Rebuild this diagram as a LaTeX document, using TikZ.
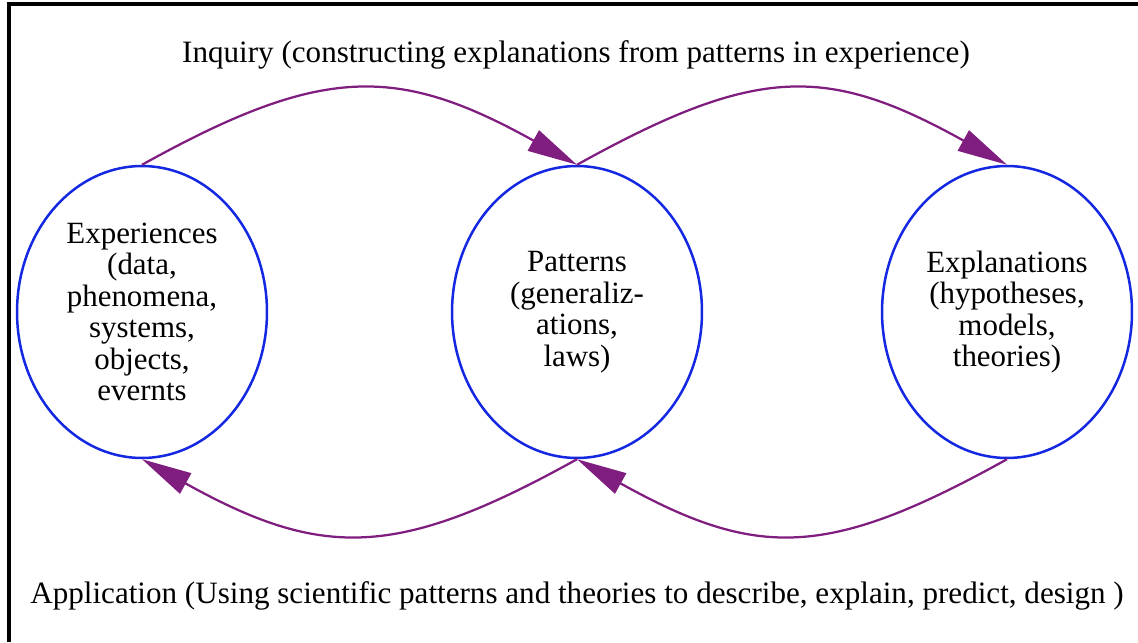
\documentclass[tikz,border=0pt]{standalone}
\usepackage{fontspec}
\setmainfont{Liberation Serif}
\usetikzlibrary{arrows.meta,shapes.geometric}
\definecolor{cyclepurple}{RGB}{128,30,128}
\definecolor{ringblue}{RGB}{20,40,225}
\tikzset{
  stage/.style={ellipse, draw=ringblue, line width=0.05cm, minimum width=5cm,
    minimum height=5.84cm, inner sep=0pt, align=center,
    font=\fontsize{17.6}{17.9}\selectfont},
  cycle/.style={draw=cyclepurple, line width=0.045cm,
    -{Triangle[length=1.0cm,width=0.46cm]}},
  caption/.style={font=\fontsize{17.7}{19}\selectfont, inner sep=0pt}
}
\begin{document}
\begin{tikzpicture}[x=0.02cm,y=-0.02cm]
  % page frame: white background, rule along the left and top edges
  \useasboundingbox[fill=white] (0,0) rectangle (1138,642);
  \draw[line width=0.065cm] (9,642) -- (9,4) -- (1138,4);

  % the three stages
  \node[stage] (exp)  at (142,312) {Experiences\\(data,\\phenomena,\\systems,\\objects,\\evernts};
  \node[stage] (pat)  at (577,312) {Patterns\\(generaliz-\\ations,\\laws)};
  \node[stage] (expl) at (1007,312) {Explanations\\(hypotheses,\\models,\\theories)};

  % inquiry arcs over the top
  \draw[cycle] (exp.north) .. controls +(180,-100) and +(-180,-100) .. (pat.north);
  \draw[cycle] (pat.north) .. controls +(180,-100) and +(-180,-100) .. (expl.north);

  % application arcs underneath
  \draw[cycle] (pat.south) .. controls +(-180,100) and +(180,100) .. (exp.south);
  \draw[cycle] (expl.south) .. controls +(-180,100) and +(180,100) .. (pat.south);

  % captions
  \node[caption] (inq) at (576,55) {Inquiry (constructing explanations from patterns in experience)};
  \node[caption] (app) at (577,596) {Application (Using scientific patterns and theories to describe, explain, predict, design )};
\end{tikzpicture}
\end{document}
